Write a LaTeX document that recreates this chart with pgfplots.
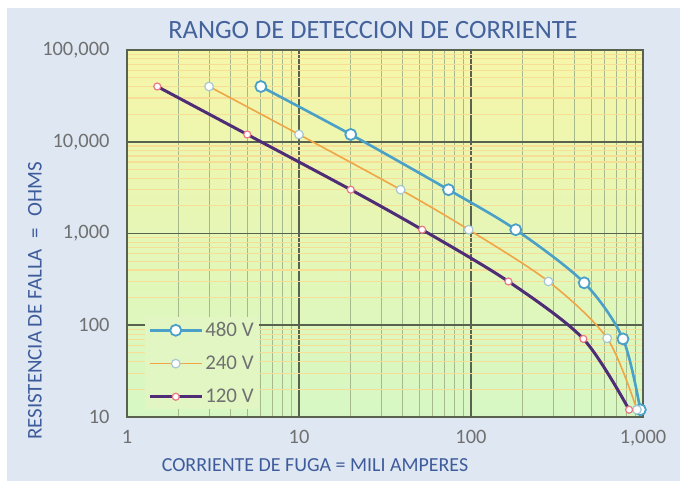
\documentclass[border=0pt]{standalone}
\usepackage{fontspec}
\setmainfont{Carlito}
\usepackage{pgfplots}
\pgfplotsset{compat=1.18}
\definecolor{panel}{RGB}{222,231,242}
\definecolor{titlecol}{RGB}{68,98,155}
\definecolor{labcol}{RGB}{62,92,155}
\definecolor{tickcol}{RGB}{112,112,112}
\definecolor{majgrid}{RGB}{88,98,78}
\definecolor{mingrid}{RGB}{165,185,140}
\definecolor{stripe}{RGB}{246,222,150}
\definecolor{bgtop}{RGB}{246,246,168}
\definecolor{bgbot}{RGB}{214,247,196}
\definecolor{legfill}{RGB}{226,246,196}
\definecolor{c480}{RGB}{75,160,200}
\definecolor{c240}{RGB}{240,165,70}
\definecolor{m240}{RGB}{165,200,212}
\definecolor{c120}{RGB}{78,44,118}
\definecolor{m120}{RGB}{232,120,132}
\begin{document}
\begin{tikzpicture}
\fill[white] (0bp,0bp) rectangle (680bp,481bp);
\fill[panel] (7bp,0bp) rectangle (680bp,473bp);
\useasboundingbox (0bp,0bp) rectangle (680bp,481bp);
\begin{axis}[
  at={(127bp,64bp)}, anchor=south west,
  scale only axis, width=516bp, height=367bp,
  xmode=log, ymode=log,
  xmin=1, xmax=1000, ymin=10, ymax=100000,
  xtick={1,10,100,1000}, xticklabels={1,10,100,{1,000}},
  ytick={10,100,1000,10000,100000}, yticklabels={10,100,{1,000},{10,000},{100,000}},
  minor x tick num=8, minor y tick num=8,
  major tick length=0pt, minor tick length=0pt,
  grid=both,
  major grid style={draw=majgrid, line width=1.6bp},
  minor x grid style={draw=mingrid, line width=1bp},
  minor y grid style={draw=stripe, line width=1.2bp},
  axis line style={draw=majgrid, line width=1.5bp},
  axis background/.style={shade, top color=bgtop, bottom color=bgbot},
  ticklabel style={font=\fontsize{20.5}{20.5}\selectfont, text=tickcol},
  xticklabel style={yshift=-10bp},
  yticklabel style={xshift=-14bp},
  legend style={at={(0.035,0.272)}, anchor=north west, fill=legfill, draw=none,
    font=\fontsize{21}{21}\selectfont, text=tickcol, row sep=14bp, inner sep=3bp},
  legend cell align=left,
  legend image code/.code={\draw[mark repeat=2,mark phase=2] plot coordinates {(0bp,0bp)(26bp,0bp)(52bp,0bp)};},
]
\addplot[c480, line width=2.6bp, smooth, mark=*, mark size=5.5bp,
  mark options={fill=white, draw=c480, line width=1.8bp}]
  coordinates {(6,40000)(20,12000)(74,3000)(182,1100)(455,290)(765,71)(965,12)};
\addlegendentry{480 V}
\addplot[c240, line width=1.6bp, smooth, mark=*, mark size=4.3bp,
  mark options={fill=white, draw=m240, line width=1.2bp}]
  coordinates {(3,40000)(10,12000)(39,3000)(97,1100)(282,300)(619,72)(922,12)};
\addlegendentry{240 V}
\addplot[c120, line width=3bp, smooth, mark=*, mark size=3.5bp,
  mark options={fill=white, draw=m120, line width=1.2bp}]
  coordinates {(1.5,40000)(5,12000)(20,3000)(52,1100)(165,300)(450,71)(830,12)};
\addlegendentry{120 V}
\end{axis}
\node[text=titlecol, font=\fontsize{26.5}{26.5}\selectfont] at (373bp,451bp) {RANGO DE DETECCION DE CORRIENTE};
\node[text=labcol, font=\fontsize{20}{20}\selectfont] at (315bp,16bp) {CORRIENTE DE FUGA = MILI AMPERES};
\node[text=labcol, font=\fontsize{21}{21}\selectfont, rotate=90] at (35bp,180bp) {RESISTENCIA DE FALLA\hspace{10bp}=\hspace{12bp}OHMS};
\end{tikzpicture}
\end{document}
